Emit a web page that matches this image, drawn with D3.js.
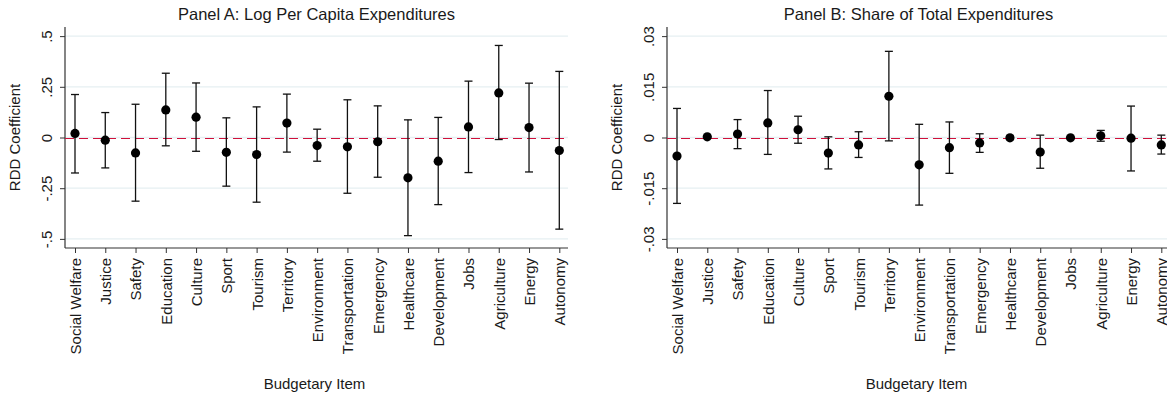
<!DOCTYPE html>
<html><head><meta charset="utf-8">
<script src="https://cdn.jsdelivr.net/npm/d3@7"></script>
<style>
html,body{margin:0;padding:0;background:#fff;}
svg{display:block;font-family:"Liberation Sans",Arial,sans-serif;}
</style></head>
<body><svg id="c" width="1167" height="396"></svg>
<script>
const categories = ["Social Welfare","Justice","Safety","Education","Culture","Sport","Tourism","Territory","Environment","Transportation","Emergency","Healthcare","Development","Jobs","Agriculture","Energy","Autonomy"];

// Panel A: Log per capita expenditures
const coefA  = [0.020,-0.013,-0.076,0.136,0.100,-0.073,-0.084,0.071,-0.040,-0.046,-0.021,-0.199,-0.117,0.052,0.220,0.049,-0.064];
const upperA = [0.212,0.123,0.164,0.317,0.269,0.097,0.151,0.214,0.041,0.186,0.156,0.087,0.099,0.278,0.454,0.268,0.326];
const lowerA = [-0.175,-0.150,-0.314,-0.041,-0.068,-0.240,-0.319,-0.072,-0.117,-0.275,-0.196,-0.484,-0.331,-0.173,-0.010,-0.170,-0.452];
const ticksA = [0.5,0.25,0,-0.25,-0.5];
const tickLabelsA = [".5",".25","0","-.25","-.5"];

// Panel B: Share of total expenditures
const coefB  = [-0.0055,0.0002,0.0010,0.0043,0.0023,-0.0046,-0.0022,0.0122,-0.0081,-0.0030,-0.0016,-0.0001,-0.0043,-0.0001,0.0005,-0.0002,-0.0022];
const upperB = [0.0086,0.0003,0.0053,0.0139,0.0063,0.0002,0.0017,0.0255,0.0039,0.0046,0.0011,0.0004,0.0007,0.0000,0.0021,0.0093,0.0007];
const lowerB = [-0.0195,0.0001,-0.0033,-0.0050,-0.0017,-0.0093,-0.0059,-0.0010,-0.0200,-0.0106,-0.0044,-0.0006,-0.0091,-0.0002,-0.0011,-0.0099,-0.0049];
const ticksB = [0.03,0.015,0,-0.015,-0.03];
const tickLabelsB = [".03",".015","0","-.015","-.03"];

const titles = ["Panel A: Log Per Capita Expenditures","Panel B: Share of Total Expenditures"];
const yTitle = "RDD Coefficient";
const xTitle = "Budgetary Item";

const svg = d3.select("#c");
const textCol = "#1a1a1a";
const fs = 15;

function panel(x0, coef, upper, lower, ticks, tickLabels, domMax, title){
  const top = 27, bottom = 248, width = 503;
  const g = svg.append("g");
  const x = d3.scalePoint().domain(categories).range([x0+10, x0+494.3]);
  const y = d3.scaleLinear().domain([-domMax, domMax]).range([bottom, top]);

  // gridlines
  g.selectAll("line.grid").data(ticks).join("line")
    .attr("x1", x0).attr("x2", x0+width)
    .attr("y1", d=>y(d)).attr("y2", d=>y(d))
    .attr("stroke", "#e6eff2").attr("stroke-width", 1.3);

  // y axis
  const ya = g.append("g").attr("transform", `translate(${x0},0)`)
    .call(d3.axisLeft(y).tickValues(ticks).tickFormat((d,i)=>tickLabels[i]).tickSize(5).tickSizeOuter(0));
  ya.select(".domain").attr("stroke", "#333").attr("stroke-width", 1.2).attr("d", `M0,${top}V${bottom}`);
  ya.selectAll(".tick line").attr("stroke", "#333");
  ya.selectAll(".tick text").attr("x", null).attr("dy", "0.36em")
    .attr("transform", "translate(-18,0) rotate(-90)")
    .attr("text-anchor", "middle").attr("fill", textCol)
    .style("font-size", fs+"px").style("font-family", "'Liberation Sans',Arial,sans-serif");

  // x axis
  const xa = g.append("g").attr("transform", `translate(0,${bottom})`)
    .call(d3.axisBottom(x).tickSize(5).tickSizeOuter(0));
  xa.select(".domain").attr("stroke", "#333").attr("stroke-width", 1.2).attr("d", `M${x0},0H${x0+width}`);
  xa.selectAll(".tick line").attr("stroke", "#333");
  xa.selectAll(".tick text").attr("y", null).attr("dy", "0.36em")
    .attr("transform", "translate(0,10) rotate(-90)")
    .attr("text-anchor", "end").attr("fill", textCol)
    .style("font-size", fs+"px").style("font-family", "'Liberation Sans',Arial,sans-serif");

  // reference line at zero
  g.append("line").attr("x1", x0).attr("x2", x0+width)
    .attr("y1", Math.round(y(0))+0.5).attr("y2", Math.round(y(0))+0.5)
    .attr("stroke", "#d0103a").attr("stroke-width", 1.2).attr("stroke-dasharray", "9,5");

  const data = categories.map((c,i)=>({c, v:coef[i], hi:upper[i], lo:lower[i]}));
  const eb = g.selectAll("g.eb").data(data).join("g");
  eb.append("line").attr("x1", d=>x(d.c)).attr("x2", d=>x(d.c))
    .attr("y1", d=>y(d.hi)).attr("y2", d=>y(d.lo))
    .attr("stroke", "#111").attr("stroke-width", 1.3);
  eb.append("line").attr("x1", d=>x(d.c)-4).attr("x2", d=>x(d.c)+4)
    .attr("y1", d=>y(d.hi)).attr("y2", d=>y(d.hi))
    .attr("stroke", "#111").attr("stroke-width", 1.3);
  eb.append("line").attr("x1", d=>x(d.c)-4).attr("x2", d=>x(d.c)+4)
    .attr("y1", d=>y(d.lo)).attr("y2", d=>y(d.lo))
    .attr("stroke", "#111").attr("stroke-width", 1.3);
  eb.append("circle").attr("cx", d=>x(d.c)).attr("cy", d=>y(d.v)).attr("r", 4.6).attr("fill", "#000");

  // titles
  svg.append("text").attr("x", x0+width/2).attr("y", 20).attr("text-anchor", "middle")
    .attr("fill", textCol).style("font-size", "16.5px").text(title);
  svg.append("text").attr("transform", `translate(${x0-50},${(top+bottom)/2}) rotate(-90)`)
    .attr("dy", "0.36em").attr("text-anchor", "middle").attr("fill", textCol)
    .style("font-size", fs+"px").text(yTitle);
  svg.append("text").attr("x", x0+width/2 - 2).attr("y", 389).attr("text-anchor", "middle")
    .attr("fill", textCol).style("font-size", fs+"px").text(xTitle);
}

panel(65, coefA, upperA, lowerA, ticksA, tickLabelsA, 0.545, titles[0]);
panel(667, coefB, upperB, lowerB, ticksB, tickLabelsB, 0.0327, titles[1]);
</script></body></html>
